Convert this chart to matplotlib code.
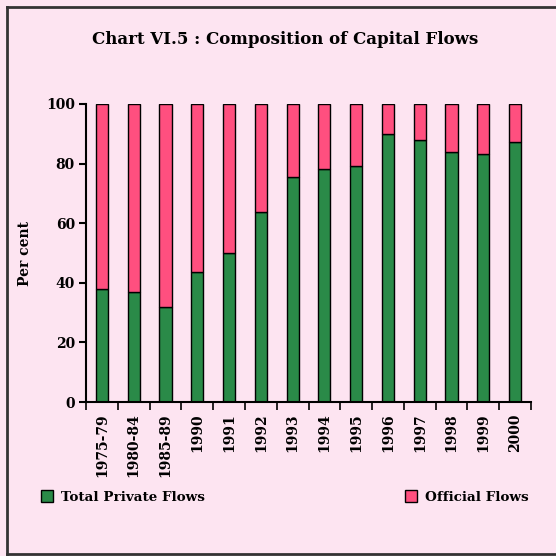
import numpy as np
from matplotlib import pyplot as plt
from matplotlib.lines import Line2D
from matplotlib.patches import Patch

periods = ['1975-79', '1980-84', '1985-89', '1990', '1991', '1992', '1993',
           '1994', '1995', '1996', '1997', '1998', '1999', '2000']
private = [38.0, 36.8, 32.0, 43.5, 50.1, 63.7, 75.6,
           78.3, 79.1, 89.9, 87.8, 83.8, 83.1, 87.1]
official = [100 - p for p in private]

green = '#2a8a48'
pink = '#ff4f7f'
bg = '#fde4f1'
font = 'DejaVu Serif'

fig = plt.figure(figsize=(5.56, 5.56), dpi=100, facecolor=bg)
# frame on left, top and bottom only (right side is cut off in the original)
fx0, fy0, fy1 = 7 / 556, 2 / 556, 549 / 556
for xs, ys in [([fx0, fx0], [fy0, fy1]), ([fx0, 1.0], [fy1, fy1]), ([fx0, 1.0], [fy0, fy0])]:
    fig.add_artist(Line2D(xs, ys, transform=fig.transFigure, color='#333333', linewidth=2))

ax = fig.add_axes([86 / 556, 154 / 556, 445 / 556, 298 / 556])
ax.set_facecolor('none')

x = np.arange(len(periods))
ax.bar(x, private, width=0.38, color=green, edgecolor='black', linewidth=1)
ax.bar(x, official, width=0.38, bottom=private, color=pink, edgecolor='black', linewidth=1)

ax.set_xlim(-0.5, len(periods) - 0.5)
ax.set_ylim(0, 100)
ax.set_yticks(range(0, 101, 20))
ax.set_xticks(x)
ax.set_xticklabels(periods, rotation=90, fontfamily=font, fontweight='bold', fontsize=10)
ax.set_xticks(np.arange(-0.5, len(periods)), minor=True)
ax.tick_params(axis='x', which='major', length=0, pad=8)
ax.tick_params(axis='x', which='minor', length=6, width=1.2, direction='out')
ax.tick_params(axis='y', length=5, width=1.5, direction='out', pad=3)
for lab in ax.get_yticklabels():
    lab.set_fontfamily(font)
    lab.set_fontweight('bold')
    lab.set_fontsize(10)

for s in ['top', 'right']:
    ax.spines[s].set_visible(False)
for s in ['left', 'bottom']:
    ax.spines[s].set_linewidth(1.5)

ax.set_ylabel('Per cent', fontfamily=font, fontweight='bold', fontsize=10, labelpad=10)

fig.text(285 / 556, 1 - 40 / 556, 'Chart VI.5 : Composition of Capital Flows',
         ha='center', va='center', fontfamily=font, fontweight='bold', fontsize=12)

leg_font = {'family': font, 'weight': 'bold', 'size': 9.7}
fig.legend(handles=[Patch(facecolor=green, edgecolor='black', label='Total Private Flows')],
           loc='center left', bbox_to_anchor=(29 / 556, 1 - 497 / 556), frameon=False,
           prop=leg_font, handlelength=0.9, handleheight=0.9, handletextpad=0.6)
fig.legend(handles=[Patch(facecolor=pink, edgecolor='black', label='Official Flows')],
           loc='center left', bbox_to_anchor=(393 / 556, 1 - 497 / 556), frameon=False,
           prop=leg_font, handlelength=0.9, handleheight=0.9, handletextpad=0.6)

fig.savefig('out.png', dpi=100, facecolor=bg)
